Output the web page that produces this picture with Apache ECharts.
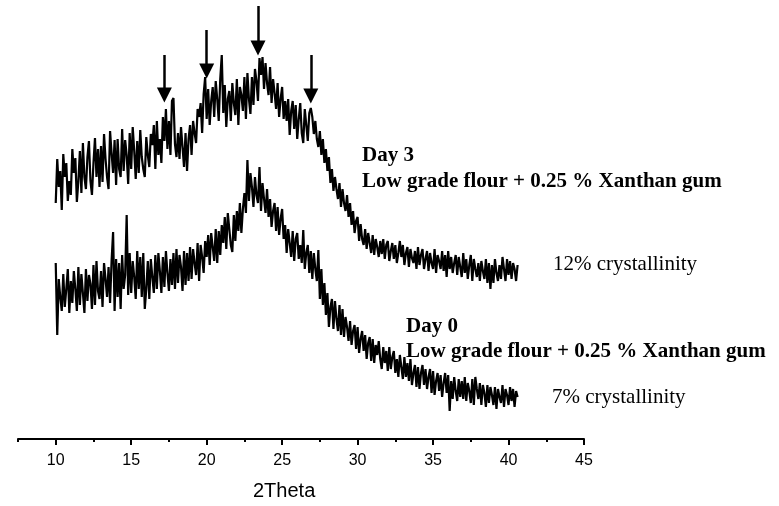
<!DOCTYPE html>
<html>
<head>
<meta charset="utf-8">
<script src="https://cdn.jsdelivr.net/npm/echarts@6/dist/echarts.min.js"></script>
<style>
  html, body { margin: 0; padding: 0; background: #fff; }
  #chart { width: 779px; height: 506px; }
</style>
</head>
<body>
<div id="chart"></div>
<script>
// XRD scans, intensity in arbitrary units (stacked for display), sampled every 0.1 deg 2θ from 10.0
const startAngle = 10.0;
const angleStep = 0.1;

const day3Intensity = [
  236, 280, 252, 268, 229, 285, 262, 276, 238, 258,
  244, 290, 266, 281, 237, 258, 288, 246, 296, 262,
  250, 282, 298, 258, 244, 276, 301, 262, 290, 252,
  293, 257, 305, 280, 262, 250, 308, 286, 266, 299,
  254, 300, 270, 262, 310, 268, 299, 284, 255, 306,
  270, 312, 288, 260, 298, 266, 309, 282, 270, 262,
  302, 284, 272, 305, 294, 314, 270, 318, 284, 300,
  276, 322, 298, 330, 290, 318, 284, 338, 341, 295,
  282, 306, 280, 312, 292, 272, 306, 268, 300, 314,
  284, 318, 306, 296, 330, 322, 336, 306, 345, 362,
  320, 350, 314, 338, 352, 322, 358, 340, 318, 360,
  384, 326, 354, 312, 340, 348, 318, 356, 336, 324,
  360, 314, 352, 344, 328, 362, 320, 366, 340, 325,
  362, 334, 370, 358, 338, 381, 364, 382, 350, 376,
  356, 344, 372, 336, 360, 346, 330, 356, 322, 340,
  352, 320, 338, 318, 340, 304, 328, 338, 310, 334,
  300, 320, 336, 306, 296, 330, 314, 298, 326, 331,
  322, 305, 318, 300, 292, 308, 284, 300, 276, 290,
  268, 282, 256, 270, 248, 262, 250, 240, 256, 232,
  250, 236, 228, 244, 222, 236, 214, 228, 206, 218,
  222, 198, 215, 200, 194, 210, 190, 206, 196, 186,
  204, 184, 200, 192, 182, 198, 185, 200, 180, 194,
  198, 178, 188, 196, 180, 194, 176, 186, 198, 182,
  194, 174, 186, 192, 172, 190, 181, 176, 188, 170,
  192, 174, 184, 190, 170, 180, 188, 168, 186, 176,
  170, 190, 166, 184, 178, 170, 188, 168, 184, 162,
  188, 170, 182, 166, 176, 184, 164, 182, 172, 162,
  186, 166, 180, 160, 174, 184, 158, 180, 170, 162,
  176, 158, 178, 168, 160, 180, 156, 176, 150, 174,
  156, 180, 166, 158, 174, 160, 182, 170, 158, 180,
  164, 178, 160, 176, 170, 158, 174
];

const day0Intensity = [
  176, 104, 160, 142, 128, 165, 132, 150, 170, 126,
  158, 136, 168, 150, 128, 172, 134, 165, 146, 126,
  170, 138, 164, 155, 130, 174, 134, 178, 148, 140,
  168, 132, 176, 160, 142, 172, 136, 178, 207, 128,
  180, 142, 176, 130, 184, 150, 164, 224, 144, 186,
  146, 178, 162, 140, 188, 150, 182, 142, 186, 130,
  150, 178, 140, 180, 162, 146, 184, 150, 186, 168,
  146, 182, 152, 188, 166, 148, 180, 154, 186, 150,
  190, 156, 184, 172, 148, 188, 154, 186, 158, 192,
  160, 190, 176, 164, 196, 158, 194, 182, 166, 198,
  182, 204, 174, 206, 192, 178, 210, 176, 208, 184,
  214, 196, 222, 190, 226, 210, 194, 187, 224, 198,
  228, 208, 236, 206, 230, 246, 226, 279, 238, 266,
  252, 232, 262, 244, 236, 272, 228, 256, 240, 226,
  250, 222, 240, 212, 228, 236, 208, 232, 204, 220,
  230, 200, 214, 186, 210, 196, 182, 208, 178, 200,
  206, 180, 194, 176, 209, 170, 186, 194, 166, 188,
  160, 186, 170, 158, 189, 140, 170, 134, 156, 124,
  146, 112, 132, 140, 110, 138, 120, 108, 134, 104,
  130, 102, 122, 112, 98, 118, 94, 108, 114, 90,
  112, 86, 100, 108, 88, 104, 80, 96, 102, 78,
  100, 76, 94, 84, 98, 80, 70, 92, 76, 88,
  68, 92, 70, 82, 88, 66, 80, 62, 84, 72,
  60, 82, 62, 76, 58, 80, 54, 66, 74, 52,
  72, 50, 66, 74, 54, 70, 50, 62, 70, 46,
  68, 44, 58, 66, 48, 64, 42, 56, 66, 46,
  64, 28, 58, 40, 62, 48, 38, 60, 42, 58,
  40, 62, 38, 56, 48, 36, 60, 34, 62, 50,
  40, 56, 34, 54, 46, 32, 54, 36, 52, 44,
  34, 52, 30, 50, 42, 36, 54, 32, 50, 44,
  34, 52, 38, 50, 32, 48, 42
];

// Peaks marked with arrows on the Day 3 scan: position, arrow top, arrow tip
const peakAngles = [17.2, 20.0, 23.4, 26.9];
const arrowTops = [384, 409, 433, 384];
const arrowTips = [337, 361, 384, 336];

// Axis ticks
const majorTicks = [10, 15, 20, 25, 30, 35, 40, 45];
const minorTicks = [7.5, 12.5, 17.5, 22.5, 27.5, 32.5, 37.5, 42.5];

const toPairs = arr => arr.map((v, i) => [+(startAngle + i * angleStep).toFixed(1), v]);

const arrowHead = 14;
const arrowLines = peakAngles.map((a, i) => [
  { coord: [a, arrowTops[i]] },
  { coord: [a, arrowTips[i] + arrowHead / 2] }
]);

const chart = echarts.init(document.getElementById('chart'), null, { renderer: 'canvas' });

const serif = '"Liberation Serif", "Times New Roman", serif';
const sans = '"Liberation Sans", Arial, sans-serif';

chart.setOption({
  animation: false,
  backgroundColor: '#fff',
  grid: { left: 18, right: 195, top: 0, bottom: 67 },
  xAxis: [
    {
      type: 'value', min: 7.5, max: 45,
      axisLine: { show: true, lineStyle: { color: '#000', width: 2 } },
      axisTick: { show: true, customValues: majorTicks, length: 6, lineStyle: { color: '#000', width: 2 } },
      axisLabel: { customValues: majorTicks, color: '#000', fontFamily: sans, fontSize: 16, margin: 14 },
      splitLine: { show: false }
    },
    {
      type: 'value', min: 7.5, max: 45, position: 'bottom',
      axisLine: { show: false },
      axisTick: { show: true, customValues: minorTicks, length: 3, lineStyle: { color: '#000', width: 2 } },
      axisLabel: { show: false },
      splitLine: { show: false }
    }
  ],
  yAxis: { type: 'value', min: 0, max: 439, show: false },
  series: [
    {
      name: 'Day 3', type: 'line', data: toPairs(day3Intensity),
      showSymbol: false, lineStyle: { color: '#000', width: 2.2 },
      markLine: {
        silent: true, symbol: ['none', 'triangle'], symbolSize: arrowHead + 1,
        label: { show: false },
        lineStyle: { color: '#000', width: 2.5, type: 'solid' },
        data: arrowLines
      }
    },
    {
      name: 'Day 0', type: 'line', data: toPairs(day0Intensity),
      showSymbol: false, lineStyle: { color: '#000', width: 2.2 }
    }
  ],
  graphic: [
    { type: 'text', left: 362, top: 145, style: { text: 'Day 3', font: 'bold 21px ' + serif, fill: '#000' } },
    { type: 'text', left: 362, top: 171, style: { text: 'Low grade flour + 0.25 % Xanthan gum', font: 'bold 21px ' + serif, fill: '#000' } },
    { type: 'text', left: 553, top: 254, style: { text: '12% crystallinity', font: '21px ' + serif, fill: '#000' } },
    { type: 'text', left: 406, top: 316, style: { text: 'Day 0', font: 'bold 21px ' + serif, fill: '#000' } },
    { type: 'text', left: 406, top: 341, style: { text: 'Low grade flour + 0.25 % Xanthan gum', font: 'bold 21px ' + serif, fill: '#000' } },
    { type: 'text', left: 552, top: 387, style: { text: '7% crystallinity', font: '21px ' + serif, fill: '#000' } },
    { type: 'text', left: 253, top: 481, style: { text: '2Theta', font: '20px ' + sans, fill: '#000' } }
  ]
});
</script>
</body>
</html>
